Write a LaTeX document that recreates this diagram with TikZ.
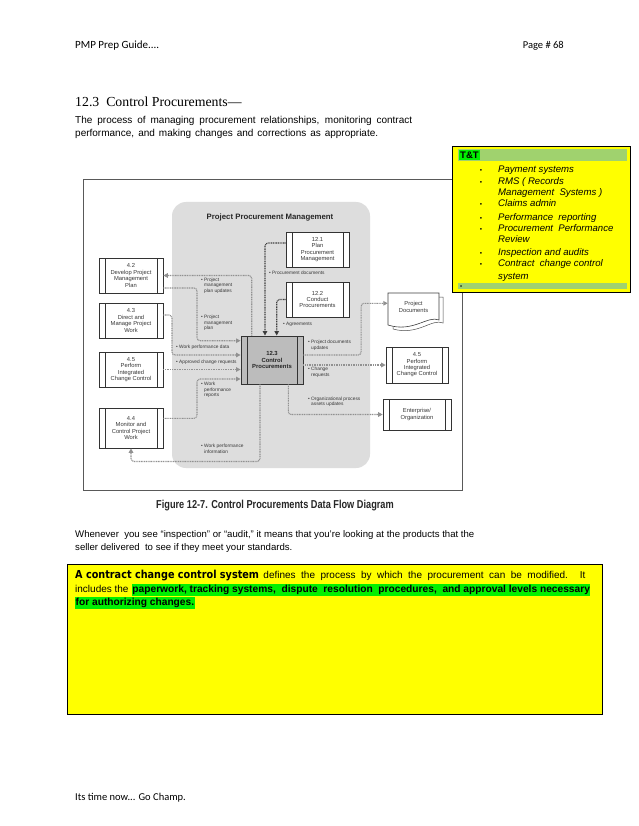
\documentclass[tikz,border=0pt]{standalone}
\usepackage{fontspec}
\setmainfont{Liberation Sans}
\newfontfamily\calfont{Carlito}
\newfontfamily\serfont{Liberation Serif}
\newfontfamily\condfont[FakeStretch=0.8]{Liberation Sans}
\newfontfamily\heavyfont[FakeStretch=0.88]{DejaVu Sans}
\usetikzlibrary{arrows.meta,calc}
\definecolor{ttyellow}{RGB}{255,255,0}
\definecolor{hlgreen}{RGB}{0,240,0}
\definecolor{bargreen}{RGB}{160,210,110}
\definecolor{regiongray}{RGB}{221,221,221}
\definecolor{flowgray}{RGB}{145,145,145}
\definecolor{boxgray}{RGB}{188,188,188}
\definecolor{inktext}{RGB}{55,55,55}
\begin{document}
\begin{tikzpicture}[x=1pt,y=-1pt,
  proc/.style={draw=black!80, fill=white, line width=0.6pt, minimum width=63pt, minimum height=35pt,
    align=center, inner sep=0pt, text=inktext, font=\fontsize{5.8}{6.4}\selectfont,
    path picture={\draw[line width=0.5pt,black!80] ([xshift=6pt]path picture bounding box.north west) -- ([xshift=6pt]path picture bounding box.south west);
                  \draw[line width=0.5pt,black!80] ([xshift=-6pt]path picture bounding box.north east) -- ([xshift=-6pt]path picture bounding box.south east);}},
  flow/.style={draw=flowgray, line width=1.1pt, dash pattern=on 1pt off 0.7pt, rounded corners=3pt,
    -{Triangle[length=4.5pt,width=4.5pt,fill=flowgray]}},
  dflow/.style={flow, draw=black!75, -{Triangle[length=4.5pt,width=4.5pt,fill=black]}},
  lbl/.style={anchor=north west, align=left, inner sep=0pt, text=inktext, font=\fontsize{4.8}{5.5}\selectfont},
  body/.style={anchor=base west, inner sep=0pt, font=\fontsize{9.6}{11}\selectfont},
  ttitem/.style={anchor=base west, inner sep=0pt, font=\itshape\fontsize{9.6}{11}\selectfont}
]
\useasboundingbox[fill=white] (0,0) rectangle (638,826);

% header / footer
\node[anchor=base west, inner sep=0, font=\calfont\fontsize{11}{12}\selectfont] (hdr) at (75,48.5) {PMP Prep Guide....};
\node[anchor=base east, inner sep=0, font=\calfont\fontsize{10.5}{12}\selectfont] (pg) at (564,48.5) {Page \# 68};
\node[anchor=base west, inner sep=0, font=\calfont\fontsize{10.5}{12}\selectfont] (ftr) at (75,800.5) {Its time now... Go Champ.};

% title and intro
\node[anchor=base west, inner sep=0, font=\serfont\fontsize{13.8}{15}\selectfont] (title) at (75,107) {12.3\ \ Control Procurements—};
\node[body, font=\fontsize{10}{11}\selectfont] (p1) at (75,123.5) {\makebox[337pt][s]{The process of managing procurement relationships, monitoring contract}};
\node[body, font=\fontsize{10}{11}\selectfont] (p2) at (75,136.5) {\makebox[303pt][s]{performance, and making changes and corrections as appropriate.}};

% diagram frame
\draw[draw=black!65, line width=1pt] (83,180) rectangle (462,490);
\fill[regiongray, rounded corners=14pt] (172,202) rectangle (370,468);
\node[font=\bfseries\fontsize{7.8}{9}\selectfont, text=black!85] (ppm) at (270,218) {Project Procurement Management};

% process boxes
\node[proc] (n121) at (317.5,249.5) {12.1\\Plan\\Procurement\\Management};
\node[proc] (n122) at (317.5,299.5) {12.2\\Conduct\\Procurements};
\node[proc, fill=boxgray, line width=0.9pt, minimum width=62pt, minimum height=48pt, text=black!85, font=\bfseries\fontsize{5.9}{6.8}\selectfont] (n123) at (272,360) {12.3\\Control\\Procurements};
\node[proc, minimum width=64pt] (n42) at (131,275.5) {4.2\\Develop Project\\Management\\Plan};
\node[proc, minimum width=64pt] (n43) at (131,320.5) {4.3\\Direct and\\Manage Project\\Work};
\node[proc, minimum width=64pt] (n45L) at (131,369.5) {4.5\\Perform\\Integrated\\Change Control};
\node[proc, minimum width=64pt, minimum height=40pt] (n44) at (131,428) {4.4\\Monitor and\\Control Project\\Work};
\node[proc, minimum width=62pt, minimum height=36pt] (n45R) at (417,365) {4.5\\Perform\\Integrated\\Change Control};
\node[proc, minimum width=68pt, minimum height=31pt] (ent) at (417,414.5) {Enterprise/\\Organization};

% project documents (document shape)
\draw[black!70, fill=white, line width=0.5pt] (393,297) -- (443,297) -- (443,323) .. controls (432,318) and (418,336) .. (393,329) -- cycle;
\draw[black!75, fill=white, line width=0.6pt] (388,293) -- (439,293) -- (439,320) .. controls (428,315) and (413,333) .. (388,325) -- cycle;
\node[align=center, inner sep=0pt, text=inktext, font=\fontsize{5.8}{6.4}\selectfont, minimum width=51pt, minimum height=32pt] (pd) at (413.5,307) {Project\\Documents};

% connectors
\draw[dflow] ([yshift=6.5pt]n121.west) -| ([xshift=-7pt]n123.north);
\draw[dflow] (n122.west) -| ([xshift=4.7pt]n123.north);
\draw[flow] ([xshift=-20.3pt]n123.north) |- (n42.east);
\draw[flow] ([yshift=-12.5pt]n42.east) -- ++(33.7,0) |- ([yshift=19.3pt]n123.west);
\draw[flow] ([yshift=5.5pt]n43.east) -- ++(8.7,0) |- ([yshift=5pt]n123.west);
\draw[flow] (n45L.east) -- (n45L.east -| n123.west);
\draw[flow] ([yshift=9.7pt]n44.east) -- ++(33.7,0) |- ([yshift=-19pt]n123.west);
\draw[flow] ([xshift=-12pt]n123.south) -- ++(0,77) -| (n44.south);
\draw[flow] ([yshift=5pt]n123.east) -- ++(57.7,0) |- ([yshift=3.7pt]pd.west);
\draw[flow] (n123.east |- n45R.west) -- (n45R.west);
\draw[flow] ([xshift=16.3pt]n123.south) |- (ent.west);

% connector labels
\node[lbl] (l1) at (269,271) {\textbullet\ Procurement documents};
\node[lbl] (l2) at (283,322) {\textbullet\ Agreements};
\node[lbl] (l3) at (201,277.5) {\textbullet\ Project\\\phantom{\textbullet\ }management\\\phantom{\textbullet\ }plan updates};
\node[lbl] (l4) at (201,315) {\textbullet\ Project\\\phantom{\textbullet\ }management\\\phantom{\textbullet\ }plan};
\node[lbl] (l5) at (176,345) {\textbullet\ Work performance data};
\node[lbl] (l6) at (176,359.5) {\textbullet\ Approved change requests};
\node[lbl] (l7) at (201,382) {\textbullet\ Work\\\phantom{\textbullet\ }performance\\\phantom{\textbullet\ }reports};
\node[lbl] (l8) at (201,444) {\textbullet\ Work performance\\\phantom{\textbullet\ }information};
\node[lbl] (l9) at (308,340) {\textbullet\ Project documents\\\phantom{\textbullet\ }updates};
\node[lbl] (l10) at (308,367) {\textbullet\ Change\\\phantom{\textbullet\ }requests};
\node[lbl] (l11) at (308,396.5) {\textbullet\ Organizational process\\\phantom{\textbullet\ }assets updates};

\node[text=black!85, font=\condfont\bfseries\fontsize{11.5}{13}\selectfont] (cap) at (275,506) {Figure 12-7. Control Procurements Data Flow Diagram};

% T&T box
\node[draw=black, fill=ttyellow, line width=0.8pt, minimum width=178pt, minimum height=146pt, anchor=north west, inner sep=0] (tt) at (452,146) {};
\fill[bargreen] (458,149) rectangle (627,161);
\node[fill=hlgreen, anchor=west, inner xsep=1pt, inner ysep=1.2pt, font=\bfseries\fontsize{9.5}{11}\selectfont] (tthead) at (459,155) {T\&T};
\fill[bargreen] (458,283) rectangle (627,289);
\node[anchor=west, inner sep=0, font=\fontsize{6}{7}\selectfont] (ttdot) at (460,287) {\textbullet};
\foreach \ty/\tb/\tx [count=\i] in {
  172.8/1/Payment systems,
  184.2/1/RMS ( Records,
  195.2/0/Management\ \ Systems ),
  206.8/1/Claims admin,
  220.8/1/Performance\ \ reporting,
  231.8/1/Procurement\ \ Performance,
  242.8/0/Review,
  255.8/1/Inspection and audits,
  266.8/1/Contract\ \ change control,
  279.5/0/system} {
  \node[ttitem] (tti\i) at (498,\ty) {\tx};
  \ifnum\tb=1 \node[anchor=base, inner sep=0, font=\fontsize{6.5}{7}\selectfont] (ttb\i) at (481,\ty) {\textbullet};\fi
}

% text after diagram
\node[body] (w1) at (75,537.5) {Whenever\ \ you see “inspection” or “audit,” it means that you’re looking at the products that the};
\node[body] (w2) at (75,550.5) {seller delivered\ \ to see if they meet your standards.};

% bottom yellow box
\node[draw=black, fill=ttyellow, line width=0.8pt, anchor=north west, minimum width=535pt, minimum height=150pt, inner sep=0] (cbox) at (67,564) {};
\node[anchor=base west, inner sep=0, font=\heavyfont\bfseries\fontsize{11}{12}\selectfont] (b1a) at (75,578.5) {A contract change control system};
\node[body, font=\fontsize{10}{11}\selectfont] (b1b) at ([xshift=4pt]b1a.base east) {\makebox[322pt][s]{defines the process by which the procurement can be modified. It}};
\node[body, font=\fontsize{10}{11}\selectfont] (b2a) at (75,592.5) {includes the};
\node[body, fill=hlgreen, inner xsep=0.5pt, inner ysep=1.5pt, font=\bfseries\fontsize{10.2}{11}\selectfont] (b2b) at ([xshift=3pt]b2a.base east) {paperwork, tracking systems,\ \ dispute\ \ resolution\ \ procedures,\ \ and approval levels necessary};
\node[body, fill=hlgreen, inner xsep=0.5pt, inner ysep=1.5pt, font=\bfseries\fontsize{10.2}{11}\selectfont] (b3) at (75,605.5) {for authorizing changes.};
\end{tikzpicture}
\end{document}
